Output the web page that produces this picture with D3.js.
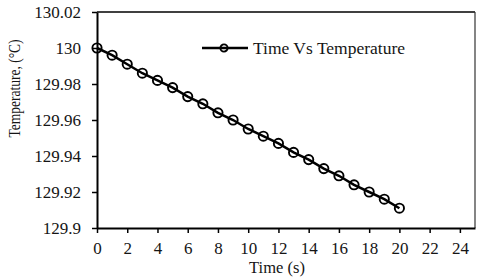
<!DOCTYPE html>
<html>
<head>
<meta charset="utf-8">
<script src="https://cdn.jsdelivr.net/npm/d3@7"></script>
<style>
  html, body { margin: 0; padding: 0; background: #fff; }
</style>
</head>
<body>
<div id="chart"></div>
<script>
// Time (s) and temperature (°C)
const times = [0, 1, 2, 3, 4, 5, 6, 7, 8, 9, 10, 11, 12, 13, 14, 15, 16, 17, 18, 19, 20];
const temps = [130.000, 129.996, 129.991, 129.986, 129.982, 129.978, 129.973, 129.969,
               129.964, 129.960, 129.955, 129.951, 129.947, 129.942, 129.938, 129.933,
               129.929, 129.924, 129.920, 129.916, 129.911];

const xTicks = [0, 2, 4, 6, 8, 10, 12, 14, 16, 18, 20, 22, 24];
const yTicks = [129.9, 129.92, 129.94, 129.96, 129.98, 130, 130.02];
const yTickLabels = ["129.9", "129.92", "129.94", "129.96", "129.98", "130", "130.02"];

const X_LABEL = "Time (s)";
const Y_LABEL = "Temperature, (°C)";
const LEGEND_LABEL = "Time Vs Temperature";

const FONT = "'Liberation Serif', 'Times New Roman', serif";
const TEXT_COLOR = "#151515";

const W = 480, H = 280;
const margin = { top: 12, right: 5, bottom: 52, left: 97 };
const width = W - margin.left - margin.right;
const height = H - margin.top - margin.bottom;

const data = times.map((t, i) => ({ t: t, v: temps[i] }));

const svg = d3.select("#chart")
    .append("svg")
    .attr("width", W)
    .attr("height", H)
    .attr("font-family", FONT);

const g = svg.append("g")
    .attr("transform", `translate(${margin.left},${margin.top})`);

const x = d3.scaleLinear().domain([0, 25]).range([0, width]);
const y = d3.scaleLinear().domain([129.9, 130.02]).range([height, 0]);

// top and right frame
g.append("line")
    .attr("x1", 0).attr("x2", width)
    .attr("y1", 0).attr("y2", 0)
    .attr("stroke", "#000").attr("stroke-width", 1.6);
g.append("line")
    .attr("x1", width).attr("x2", width)
    .attr("y1", 0).attr("y2", height)
    .attr("stroke", "#333").attr("stroke-width", 1.2);

// x axis
const xAxis = g.append("g")
    .attr("transform", `translate(0,${height})`)
    .call(d3.axisBottom(x)
        .tickValues(xTicks)
        .tickFormat(d3.format("d"))
        .tickSize(5)
        .tickSizeOuter(0)
        .tickPadding(9));

// y axis
const yAxis = g.append("g")
    .call(d3.axisLeft(y)
        .tickValues(yTicks)
        .tickFormat((d, i) => yTickLabels[i])
        .tickSize(5)
        .tickSizeOuter(0)
        .tickPadding(11));

[xAxis, yAxis].forEach(ax => {
    ax.attr("font-family", FONT).attr("font-size", 17);
    ax.select(".domain").attr("stroke", "#000").attr("stroke-width", 2);
    ax.selectAll(".tick line").attr("stroke", "#000").attr("stroke-width", 1.5);
    ax.selectAll(".tick text").attr("fill", TEXT_COLOR);
});

// axis titles
svg.append("text")
    .attr("x", 277)
    .attr("y", 273)
    .attr("text-anchor", "middle")
    .attr("font-size", 16.5)
    .attr("fill", TEXT_COLOR)
    .text(X_LABEL);

// the y title in the reference is short but tall, so stretch it sideways
svg.append("text")
    .attr("transform", "translate(20,88.5) scale(1.3,1) rotate(-90)")
    .attr("text-anchor", "middle")
    .attr("font-size", 13.5)
    .attr("fill", TEXT_COLOR)
    .text(Y_LABEL);

// series line
g.append("path")
    .datum(data)
    .attr("fill", "none")
    .attr("stroke", "#000")
    .attr("stroke-width", 2.5)
    .attr("d", d3.line().x(d => x(d.t)).y(d => y(d.v)));

// markers
g.selectAll(".dot")
    .data(data)
    .enter()
    .append("circle")
    .attr("class", "dot")
    .attr("cx", d => x(d.t))
    .attr("cy", d => y(d.v))
    .attr("r", 4.6)
    .attr("fill", "none")
    .attr("stroke", "#000")
    .attr("stroke-width", 1.9);

// legend
const legend = svg.append("g").attr("transform", "translate(202,48)");
legend.append("line")
    .attr("x1", 0).attr("x2", 46)
    .attr("y1", 0).attr("y2", 0)
    .attr("stroke", "#000").attr("stroke-width", 2.5);
legend.append("circle")
    .attr("cx", 22).attr("cy", 0).attr("r", 3.6)
    .attr("fill", "none").attr("stroke", "#000").attr("stroke-width", 1.9);
legend.append("text")
    .attr("x", 51)
    .attr("y", 5.5)
    .attr("font-size", 17.5)
    .attr("fill", TEXT_COLOR)
    .text(LEGEND_LABEL);
</script>
</body>
</html>
